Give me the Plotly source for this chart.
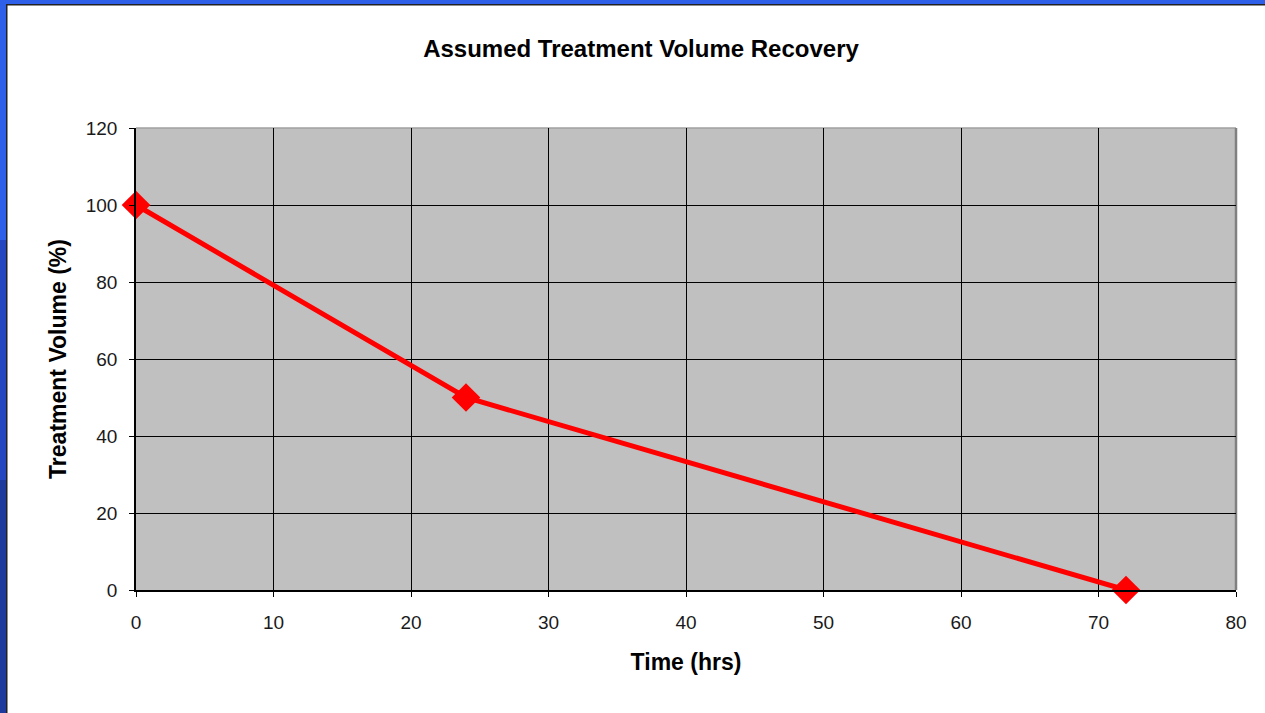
import plotly.graph_objects as go

# values
time_hrs = [0, 24, 72]
volume_pct = [100, 50, 0]

x_ticks = [0, 10, 20, 30, 40, 50, 60, 70, 80]
y_ticks = [0, 20, 40, 60, 80, 100, 120]

W, H = 1265, 713
L, R, T, B = 136, 29, 128, 123
PW, PH = W - L - R, H - T - B


def px_x(p):
    return (p - L) / PW


def px_y(p):
    return (H - B - p) / PH


fig = go.Figure()
fig.add_trace(
    go.Scatter(
        x=time_hrs,
        y=volume_pct,
        mode="lines+markers",
        line=dict(color="#ff0000", width=5),
        marker=dict(symbol="diamond", size=22, color="#ff0000"),
        cliponaxis=False,
        showlegend=False,
    )
)

# slide frame (blue edges) and the 3D-ish plot border
frame = [
    dict(x0=px_x(0), x1=px_x(W), y0=px_y(0), y1=px_y(4), color="#2d5fe9"),
    dict(x0=px_x(0), x1=px_x(W), y0=px_y(4), y1=px_y(5.5), color="#222222"),
    dict(x0=px_x(0), x1=px_x(6), y0=px_y(0), y1=px_y(240), color="#2d5fe9"),
    dict(x0=px_x(0), x1=px_x(6), y0=px_y(240), y1=px_y(480), color="#2447c0"),
    dict(x0=px_x(0), x1=px_x(6), y0=px_y(480), y1=px_y(H), color="#1d3a9c"),
    dict(x0=px_x(6), x1=px_x(7.5), y0=px_y(4), y1=px_y(H), color="#222222"),
]
shapes = [
    dict(type="rect", xref="paper", yref="paper", layer="above",
         x0=f["x0"], x1=f["x1"], y0=f["y0"], y1=f["y1"],
         fillcolor=f["color"], line=dict(width=0))
    for f in frame
]
shapes += [
    dict(type="line", xref="paper", yref="paper", x0=0, x1=1, y0=1, y1=1,
         line=dict(color="#a0a0a0", width=1.5), layer="below"),
    dict(type="line", xref="paper", yref="paper", x0=1, x1=1, y0=0, y1=1,
         line=dict(color="#808080", width=2.5), layer="below"),
]

axis_font = dict(family="Liberation Sans, Arial", size=19, color="#1a1a1a")
title_font = dict(family="Liberation Sans, Arial", size=23, color="#000000")

fig.update_layout(
    width=W,
    height=H,
    margin=dict(l=L, r=R, t=T, b=B),
    paper_bgcolor="white",
    plot_bgcolor="#c0c0c0",
    shapes=shapes,
    title=dict(
        text="<b>Assumed Treatment Volume Recovery</b>",
        x=641 / W,
        xanchor="center",
        y=1 - 49 / H,
        yanchor="middle",
        font=dict(family="Liberation Sans, Arial", size=24, color="#000000"),
    ),
)
fig.update_xaxes(
    range=[0, 80],
    tickvals=x_ticks,
    showgrid=True,
    gridcolor="#000000",
    gridwidth=1.3,
    zeroline=False,
    showline=True,
    linecolor="#000000",
    linewidth=1.5,
    ticks="outside",
    ticklen=5,
    tickcolor="#000000",
    tickfont=axis_font,
    ticklabelstandoff=9,
    title=dict(text="<b>Time (hrs)</b>", font=title_font, standoff=22),
)
fig.update_yaxes(
    range=[0, 120],
    tickvals=y_ticks,
    showgrid=True,
    gridcolor="#000000",
    gridwidth=1.3,
    zeroline=False,
    showline=True,
    linecolor="#000000",
    linewidth=1.5,
    ticks="outside",
    ticklen=5,
    tickcolor="#000000",
    tickfont=axis_font,
    ticklabelstandoff=8,
    title=dict(text="<b>Treatment Volume (%)</b>", font=title_font, standoff=13),
)

fig.write_html(
    "out.html",
    config=dict(displayModeBar=False),
    post_script="document.body.style.margin='0px';",
)
